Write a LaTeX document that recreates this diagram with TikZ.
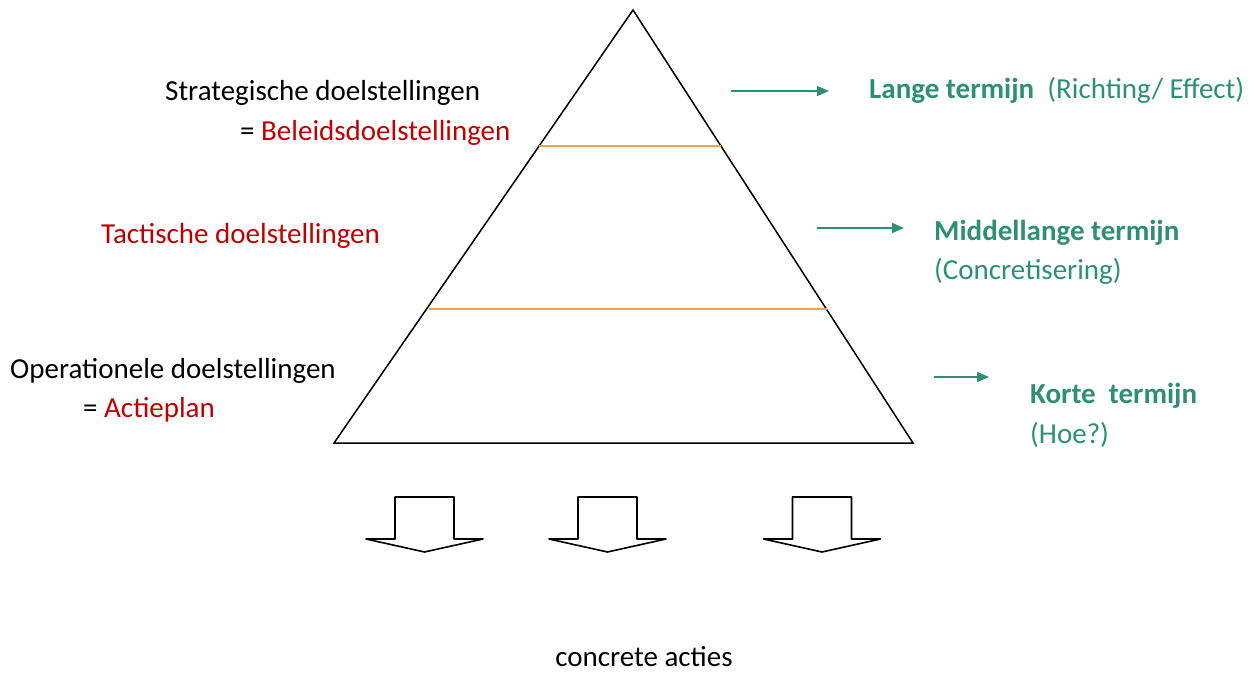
\documentclass[tikz,border=0pt]{standalone}
\usepackage{fontspec}
\setmainfont{Carlito}
\usetikzlibrary{arrows.meta}
\definecolor{dred}{HTML}{C00000}
\definecolor{dgreen}{HTML}{2E9072}
\definecolor{lorange}{HTML}{F5A050}
\begin{document}
\begin{tikzpicture}[x=1pt,y=-1pt,
  txt/.style={inner sep=0pt,anchor=west,yshift=-2pt,font=\fontsize{29}{34}\selectfont},
  gtxt/.style={txt,text=dgreen},
  garrow/.style={draw=dgreen,line width=1.5pt,-{Triangle[length=12pt,width=10pt]}},
  blockarrow/.style={draw=black,line width=1.6pt,line join=round,fill=white}]
\useasboundingbox (0,0) rectangle (1250,672);
% pyramid
\coordinate (apex) at (633,10);
\coordinate (bl) at (334,443);
\coordinate (br) at (913,443);
\draw[line width=1.5pt,line join=miter] (apex) -- (bl) -- (br) -- cycle;
\coordinate (o1l) at (539,146); \coordinate (o1r) at (721,146);
\coordinate (o2l) at (429,309); \coordinate (o2r) at (827,309);
\draw[lorange,line width=1.5pt] (o1l) -- (o1r);
\draw[lorange,line width=1.5pt] (o2l) -- (o2r);
% left texts
\node[txt] (strat) at (165,91) {Strategische doelstellingen};
\node[txt] (beleid) at (240,131) {= \textcolor{dred}{Beleidsdoelstellingen}};
\node[txt,text=dred] (tact) at (101,234) {Tactische doelstellingen};
\node[txt] (oper) at (10,369) {Operationele doelstellingen};
\node[txt] (actie) at (83,408) {= \textcolor{dred}{Actieplan}};
% green arrows
\coordinate (a1s) at (731,91); \coordinate (a1e) at (829,91);
\coordinate (a2s) at (817,228); \coordinate (a2e) at (904,228);
\coordinate (a3s) at (934,377); \coordinate (a3e) at (989,377);
\draw[garrow] (a1s) -- (a1e);
\draw[garrow] (a2s) -- (a2e);
\draw[garrow] (a3s) -- (a3e);
% right texts
\node[gtxt] (lange) at (869,88) {\textbf{Lange termijn}\ \ (Richting/ Effect)};
\node[gtxt] (middel) at (934,231) {\textbf{Middellange termijn}};
\node[gtxt] (concr) at (934,269) {(Concretisering)};
\node[gtxt] (korte) at (1030,394) {\textbf{Korte\ \ termijn}};
\node[gtxt] (hoe) at (1030,433) {(Hoe?)};
% block arrows
\foreach \c/\n in {424.5/b1,607.5/b2,822/b3}{
  \draw[blockarrow] (\c-29.5,497) -- (\c+29.5,497) -- (\c+29.5,539) -- (\c+58.5,539)
    -- (\c,552) -- (\c-58.5,539) -- (\c-29.5,539) -- cycle;
}
\node[txt,anchor=center,yshift=2pt] (acties) at (644,657) {concrete acties};
\end{tikzpicture}
\end{document}
